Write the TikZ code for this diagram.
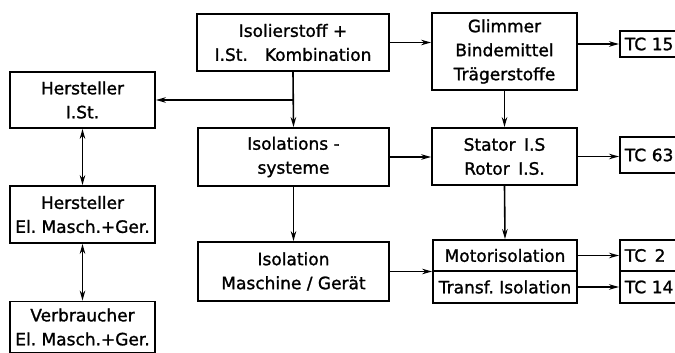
\documentclass[tikz,border=0pt]{standalone}
\usepackage{fontspec}
\setmainfont{DejaVu Sans}[BoldFont={DejaVu Sans}, BoldFeatures={FakeBold=1.3}]
\usetikzlibrary{arrows.meta}
\begin{document}
\begin{tikzpicture}[x=1pt,y=-1pt,
  box/.style={draw, line width=1.8pt, inner sep=0pt, align=center,
    font=\fontsize{17}{24}\selectfont\bfseries},
  tcbox/.style={box, anchor=west, minimum width=71pt, text width=61pt, align=left},
  arr/.style={line width=1.6pt, -{Stealth[length=10pt,width=5.5pt]}},
  darr/.style={line width=1.6pt, {Stealth[length=10pt,width=5.5pt]}-{Stealth[length=10pt,width=5.5pt]}}]
\useasboundingbox (0,0) rectangle (675,353);
\clip (0,0) rectangle (675,353);
\node[box, minimum width=192pt, minimum height=57pt] (iso) at (293,42.5) {Isolierstoff +\\I.St.\quad Kombination};
\node[box, minimum width=145pt, minimum height=56pt] (hist) at (82.5,100) {Hersteller\\I.St.};
\node[box, minimum width=191pt, minimum height=58pt] (sys) at (293.5,157) {Isolations -\\systeme};
\node[box, minimum width=191pt, minimum height=59pt] (masch) at (293.5,271.5) {Isolation\\Maschine / Gerät};
\node[box, minimum width=145pt, minimum height=57pt] (hel) at (82.5,214.5) {Hersteller\\El.\ Masch.+Ger.};
\node[box, minimum width=145pt, minimum height=51pt] (verb) at (82.5,327) {Verbraucher\\El.\ Masch.+Ger.};
\node[box, minimum width=145pt, minimum height=77pt] (glim) at (504.5,51.5) {Glimmer\\Bindemittel\\Trägerstoffe};
\node[box, minimum width=145pt, minimum height=57pt] (stat) at (504.5,156.5) {Stator\enspace I.S\\Rotor\enspace I.S.};
\node[box, minimum width=144pt, minimum height=31pt] (mot) at (505,255.5) {Motorisolation};
\node[box, minimum width=144pt, minimum height=32pt] (trans) at (505,287) {Transf.\ Isolation};
\node[tcbox, minimum height=26pt] (tc15) at (619,44) {TC 15};
\node[tcbox, minimum height=36pt] (tc63) at (619,155) {TC 63};
\node[tcbox, minimum height=31pt] (tc2) at (619,255.5) {TC\enspace 2};
\node[tcbox, minimum height=32pt] (tc14) at (619,287) {TC 14};
\draw[arr] (iso.east) -- (iso.east -| glim.west);
\draw[arr] (glim.east |- tc15.west) -- (tc15.west);
\draw[arr] (glim.south) -- (stat.north);
\draw[arr] (stat.south) -- (mot.north);
\draw[arr] (sys.east) -- (sys.east -| stat.west);
\draw[arr] (stat.east) -- (stat.east -| tc63.west);
\draw[arr] (masch.east) -- (masch.east -| mot.west);
\draw[arr] (mot.east) -- (tc2.west);
\draw[arr] (trans.east) -- (tc14.west);
\draw[arr] (iso.south) -- (sys.north);
\draw[arr] (sys.south) -- (masch.north);
\coordinate (br) at (293,100);
\draw[arr] (br) -- (br -| hist.east);
\draw[darr] (hist.south) -- (hel.north);
\draw[darr] (hel.south) -- (verb.north);
\end{tikzpicture}
\end{document}
